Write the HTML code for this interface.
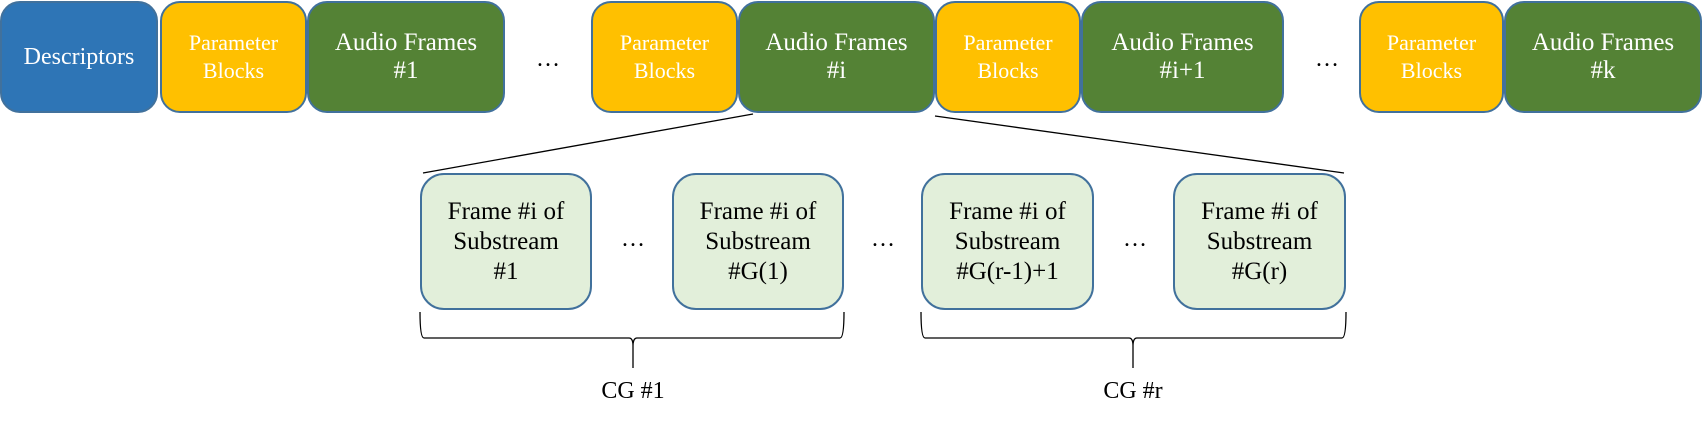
<!DOCTYPE html>
<html><head><meta charset="utf-8"><style>
body{margin:0;width:1703px;height:423px;background:#fff;position:relative;overflow:hidden;font-family:"Liberation Serif",serif;}
.b{position:absolute;box-sizing:border-box;border:2px solid #41719C;border-radius:20px;display:flex;align-items:center;justify-content:center;text-align:center;color:#fff;}
.d{background:#2E75B6;font-size:24px;}
.p{background:#FFC000;font-size:22px;line-height:28px;}
.g{background:#548235;font-size:25px;line-height:28px;}
.s{background:#E2EFDA;color:#000;font-size:25px;line-height:30px;border-radius:24px;}
.t{position:absolute;font-size:24px;color:#000;transform:translateX(-50%);white-space:nowrap;}
</style></head><body>
<div class="b d" style="left:0;top:1px;width:158px;height:112px">Descriptors</div>
<div class="b p" style="left:160px;top:1px;width:147px;height:112px">Parameter<br>Blocks</div>
<div class="b g" style="left:307px;top:1px;width:198px;height:112px">Audio Frames<br>#1</div>
<div class="t" style="left:548px;top:46px">…</div>
<div class="b p" style="left:591px;top:1px;width:147px;height:112px">Parameter<br>Blocks</div>
<div class="b g" style="left:738px;top:1px;width:197px;height:112px">Audio Frames<br>#i</div>
<div class="b p" style="left:935px;top:1px;width:146px;height:112px">Parameter<br>Blocks</div>
<div class="b g" style="left:1081px;top:1px;width:203px;height:112px">Audio Frames<br>#i+1</div>
<div class="t" style="left:1327px;top:46px">…</div>
<div class="b p" style="left:1359px;top:1px;width:145px;height:112px">Parameter<br>Blocks</div>
<div class="b g" style="left:1504px;top:1px;width:198px;height:112px">Audio Frames<br>#k</div>
<svg style="position:absolute;left:0;top:0" width="1703" height="423">
<g stroke="#000" stroke-width="1.3" fill="none">
<line x1="753" y1="114" x2="423" y2="173"/>
<line x1="935" y1="116" x2="1344" y2="173"/>
<path d="M420 312 Q420 338 424 338 L629 338 Q633 338 633 346 L633 368 M633 346 Q633 338 637 338 L840 338 Q844 338 844 312"/>
<path d="M921 312 Q921 338 925 338 L1129 338 Q1133 338 1133 346 L1133 368 M1133 346 Q1133 338 1137 338 L1342 338 Q1346 338 1346 312"/>
</g></svg>
<div class="b s" style="left:420px;top:173px;width:172px;height:137px">Frame #i of<br>Substream<br>#1</div>
<div class="t" style="left:633px;top:226px">…</div>
<div class="b s" style="left:672px;top:173px;width:172px;height:137px">Frame #i of<br>Substream<br>#G(1)</div>
<div class="t" style="left:883px;top:226px">…</div>
<div class="b s" style="left:921px;top:173px;width:173px;height:137px">Frame #i of<br>Substream<br>#G(r-1)+1</div>
<div class="t" style="left:1135px;top:226px">…</div>
<div class="b s" style="left:1173px;top:173px;width:173px;height:137px">Frame #i of<br>Substream<br>#G(r)</div>
<div class="t" style="left:633px;top:378px">CG #1</div>
<div class="t" style="left:1133px;top:378px">CG #r</div>
</body></html>
